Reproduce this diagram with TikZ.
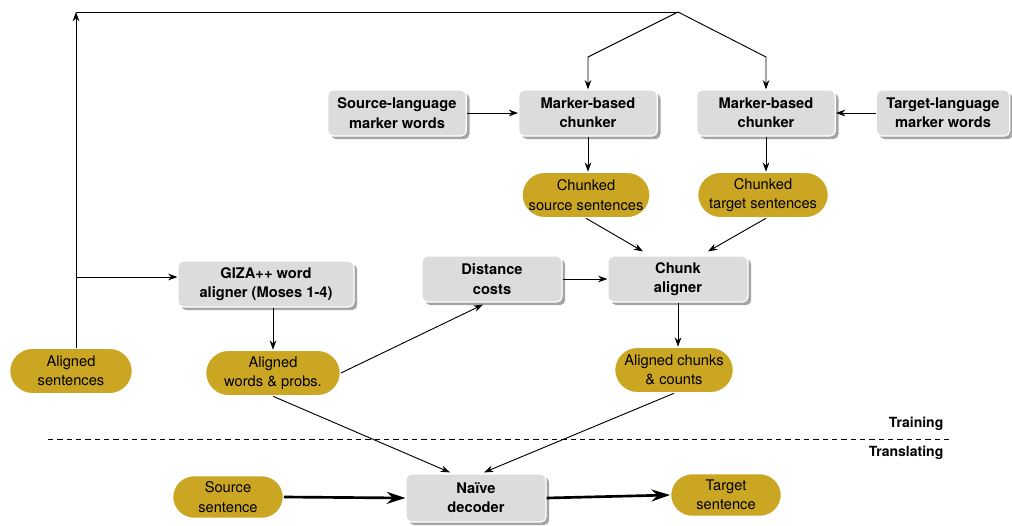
\documentclass[tikz,border=0pt]{standalone}
\usepackage{fontspec}
\setmainfont{TeX Gyre Heros}
\usetikzlibrary{shapes.misc,shadows,arrows.meta,calc}
\definecolor{gold}{HTML}{CBA623}
\definecolor{boxgray}{HTML}{DCDCDC}
\begin{document}
\begin{tikzpicture}[x=0.75pt,y=-0.75pt,
  gbox/.style={draw=white, line width=0.9pt, fill=boxgray, rounded corners=4pt,
    drop shadow={shadow xshift=2.4pt,shadow yshift=-2.4pt,fill=black!70},
    align=center, font=\bfseries\fontsize{11}{14.5}\selectfont,
    minimum height=34.5pt, inner sep=2pt},
  gell/.style={rounded rectangle, draw=white, line width=0.9pt, fill=gold,
    align=center, font=\fontsize{11}{14.5}\selectfont,
    minimum height=34pt, inner sep=2pt},
  arr/.style={-{Stealth[length=7pt,width=5pt]}, line width=0.7pt},
  bigarr/.style={-{Stealth[length=14pt,width=9pt]}, line width=2pt},
  lbl/.style={anchor=east, font=\bfseries\fontsize{10.5}{14}\selectfont}]
\useasboundingbox (0,0) rectangle (1012,525);
\fill[white] (0,0) rectangle (1012,525);

% nodes
\node[gbox, minimum width=104pt] (src) at (397,113) {Source-language\\marker words};
\node[gbox, minimum width=104pt] (mbc1) at (588,113) {Marker-based\\chunker};
\node[gbox, minimum width=104pt] (mbc2) at (766,113) {Marker-based\\chunker};
\node[gbox, minimum width=100pt] (tgt) at (943,113) {Target-language\\marker words};
\node[gell, minimum width=100pt] (cs) at (586,195) {Chunked\\source sentences};
\node[gell, minimum width=102pt] (ct) at (763,195) {Chunked\\target sentences};
\node[gbox, minimum width=105pt] (dc) at (492,279) {Distance\\costs};
\node[gbox, minimum width=105pt] (ca) at (678,279) {Chunk\\aligner};
\node[gell, minimum width=93pt] (ac) at (674,370) {Aligned chunks\\\& counts};
\node[gbox, minimum width=132pt] (giza) at (266,284) {GIZA++ word\\aligner (Moses 1-4)};
\node[gell, minimum width=105pt] (aw) at (273,373) {Aligned\\words \& probs.};
\node[gell, minimum width=96pt] (as) at (71,371) {Aligned\\sentences};
\node[gbox, minimum width=105pt, minimum height=36pt] (nd) at (476,498) {Naïve\\decoder};
\node[gell, minimum width=87pt, minimum height=32pt] (ss) at (228,497) {Source\\sentence};
\node[gell, minimum width=87pt, minimum height=32pt] (ts) at (726,495) {Target\\sentence};

% helper coordinates
\coordinate (top) at (76,12);
\coordinate (apex) at (678,12);
\coordinate (l1) at (588,57);
\coordinate (r1) at (766,57);
\coordinate (branch) at (76,277);
\coordinate (dl) at (48,439);
\coordinate (dr) at (952,439);

% connectors
\draw[arr] (as.north -| top) -- (top);
\draw[line width=0.7pt] (top) -- (apex);
\draw[arr] (apex) -- (l1) -- (mbc1.north);
\draw[arr] (apex) -- (r1) -- (mbc2.north);
\draw[arr] (branch) -- (giza.west |- branch);
\draw[arr] (src.east) -- (mbc1.west);
\draw[arr] (tgt.west) -- (mbc2.east);
\draw[arr] (mbc1.south) -- (cs.north -| mbc1.south);
\draw[arr] (mbc2.south) -- (ct.north -| mbc2.south);
\draw[arr] (cs.south) -- ($(ca.north)+(-35,-4)$);
\draw[arr] ($(ct.south)+(3,0)$) -- ($(ca.north)+(30,-4)$);
\draw[arr] (dc.east) -- (ca.west);
\draw[arr] (aw.east) -- ($(dc.south)+(-9,2)$);
\draw[arr] (ca.south) -- (ac.north -| ca.south);
\draw[arr] (giza.south -| aw.north) -- (aw.north);
\draw[arr] (aw.south) -- ($(nd.north)+(-26,-1)$);
\draw[arr] (ac.south) -- ($(nd.north)+(8,-1)$);
\draw[bigarr] (ss.east) -- (nd.west);
\draw[bigarr] (nd.east) -- (ts.west);

% separator
\draw[dashed, line width=0.7pt, dash pattern=on 4pt off 3pt] (dl) -- (dr);
\node[lbl] (train) at (948,424) {Training};
\node[lbl] (transl) at (948,453) {Translating};
\end{tikzpicture}
\end{document}
